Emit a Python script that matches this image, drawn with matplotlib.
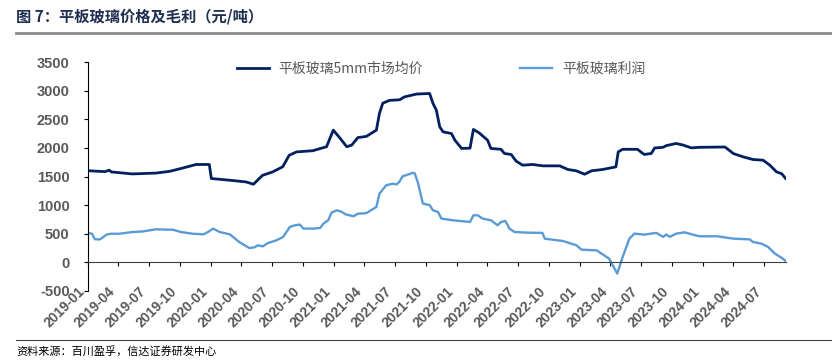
import numpy as np
import pandas as pd
import matplotlib
matplotlib.use('Agg')
import matplotlib.pyplot as plt
import matplotlib.dates as mdates

plt.rcParams['font.family'] = ['Liberation Sans', 'Noto Sans CJK SC', 'DejaVu Sans']
plt.rcParams['axes.unicode_minus'] = False

# 平板玻璃5mm市场均价 (元/吨)
price_dates = ['2019-01-04', '2019-02-21', '2019-03-06', '2019-03-12', '2019-05-13', '2019-07-23',
               '2019-09-01', '2019-10-05', '2019-11-19', '2019-12-28', '2020-01-03', '2020-03-06',
               '2020-04-15', '2020-05-07', '2020-06-03', '2020-07-03', '2020-08-02', '2020-08-21',
               '2020-09-12', '2020-10-30', '2020-12-10', '2020-12-30', '2021-01-19', '2021-02-08',
               '2021-02-23', '2021-03-13', '2021-04-07', '2021-05-07', '2021-05-16', '2021-05-26',
               '2021-06-15', '2021-07-15', '2021-07-29', '2021-09-03', '2021-10-12', '2021-10-22',
               '2021-11-01', '2021-11-11', '2021-11-21', '2021-12-16', '2021-12-26', '2022-01-15',
               '2022-02-09', '2022-02-19', '2022-03-08', '2022-04-02', '2022-04-12', '2022-05-12',
               '2022-05-22', '2022-06-11', '2022-06-26', '2022-07-15', '2022-08-14', '2022-09-13',
               '2022-11-02', '2022-11-27', '2022-12-21', '2023-01-15', '2023-02-05', '2023-03-09',
               '2023-04-18', '2023-04-25', '2023-05-08', '2023-06-21', '2023-07-11', '2023-08-01',
               '2023-08-11', '2023-09-05', '2023-09-15', '2023-10-14', '2023-11-03', '2023-11-28',
               '2023-12-22', '2024-03-07', '2024-04-01', '2024-04-30', '2024-05-29', '2024-06-28',
               '2024-07-18', '2024-08-07', '2024-08-22', '2024-09-03']
price = [1600, 1585, 1610, 1580, 1545, 1560,
         1590, 1640, 1710, 1710, 1465, 1430,
         1405, 1365, 1520, 1580, 1670, 1870,
         1930, 1950, 2020, 2310, 2170, 2020,
         2050, 2180, 2200, 2310, 2600, 2780,
         2830, 2840, 2890, 2940, 2950, 2777,
         2660, 2368, 2280, 2250, 2135, 1990,
         1995, 2322, 2262, 2135, 1990, 1975,
         1902, 1885, 1768, 1698, 1710, 1686,
         1686, 1622, 1600, 1540, 1600, 1622,
         1668, 1930, 1975, 1975, 1885, 1902,
         1998, 2010, 2040, 2077, 2050, 2000,
         2010, 2015, 1900, 1843, 1797, 1785,
         1698, 1580, 1550, 1465]

# 平板玻璃利润 (元/吨)
profit_dates = ['2019-01-04', '2019-01-14', '2019-01-22', '2019-02-06', '2019-02-26', '2019-03-11',
                '2019-04-05', '2019-05-14', '2019-06-13', '2019-07-22', '2019-09-11', '2019-10-05',
                '2019-11-09', '2019-12-11', '2019-12-24', '2020-01-08', '2020-01-18', '2020-01-28',
                '2020-02-27', '2020-03-26', '2020-04-25', '2020-05-10', '2020-05-20', '2020-06-04',
                '2020-06-19', '2020-07-14', '2020-08-03', '2020-08-23', '2020-09-07', '2020-09-22',
                '2020-10-02', '2020-11-01', '2020-11-21', '2020-12-01', '2020-12-15', '2020-12-25',
                '2021-01-10', '2021-01-25', '2021-02-04', '2021-02-28', '2021-03-13', '2021-04-07',
                '2021-05-07', '2021-05-16', '2021-06-05', '2021-06-25', '2021-07-05', '2021-07-14',
                '2021-07-24', '2021-08-03', '2021-08-23', '2021-08-29', '2021-09-08', '2021-09-22',
                '2021-10-12', '2021-10-22', '2021-11-06', '2021-11-16', '2021-12-20', '2022-02-09',
                '2022-02-19', '2022-03-04', '2022-03-18', '2022-04-12', '2022-05-02', '2022-05-12',
                '2022-05-25', '2022-06-06', '2022-06-21', '2022-07-25', '2022-09-12', '2022-09-19',
                '2022-11-12', '2022-12-22', '2023-01-06', '2023-02-20', '2023-03-29', '2023-04-14',
                '2023-04-22', '2023-05-08', '2023-05-28', '2023-06-12', '2023-07-11', '2023-08-16',
                '2023-09-05', '2023-09-15', '2023-09-25', '2023-10-14', '2023-11-08', '2023-12-02',
                '2023-12-22', '2024-02-12', '2024-04-01', '2024-05-19', '2024-05-29', '2024-06-23',
                '2024-07-13', '2024-08-02', '2024-08-26', '2024-09-03']
profit = [510, 500, 405, 400, 485, 500,
          500, 530, 540, 577, 570, 530,
          500, 490, 530, 590, 560, 530,
          490, 355, 250, 263, 297, 280,
          338, 385, 443, 618, 648, 660,
          590, 590, 600, 677, 735, 870,
          910, 880, 840, 805, 850, 860,
          968, 1200, 1347, 1375, 1360, 1405,
          1505, 1522, 1563, 1555, 1377, 1027,
          1000, 910, 880, 765, 735, 706,
          822, 822, 765, 735, 648, 706,
          723, 590, 531, 520, 515, 414,
          373, 298, 222, 210, 64, -110,
          -195, 93, 414, 502, 485, 515,
          446, 485, 446, 502, 525, 485,
          456, 456, 414, 402, 356, 327,
          269, 153, 64, 23]

tick_labels = pd.date_range('2019-01-01', '2024-07-01', freq='QS')

fig = plt.figure(figsize=(8.32, 3.6), dpi=100)
ax = fig.add_axes([87.7 / 832, 1 - 291 / 360, (786 - 87.7) / 832, (291 - 62) / 360])

ax.plot(pd.to_datetime(price_dates), price, color='#002060', lw=2.0, label='平板玻璃5mm市场均价')
ax.plot(pd.to_datetime(profit_dates), profit, color='#5B9BD5', lw=1.7, label='平板玻璃利润')

ax.set_ylim(-500, 3500)
ax.set_yticks(np.arange(-500, 3501, 500))
ax.set_xlim(pd.Timestamp('2019-01-01'), pd.Timestamp('2024-09-04'))
ax.set_xticks(tick_labels)
ax.xaxis.set_major_formatter(mdates.DateFormatter('%Y-%m'))

ax.spines['top'].set_visible(False)
ax.spines['right'].set_visible(False)
ax.spines['bottom'].set_position(('data', 0))
ax.spines['bottom'].set_color('#404040')
ax.spines['left'].set_color('black')

ax.tick_params(axis='y', direction='out', length=3, pad=10, labelsize=10.5, labelcolor='#595959')
ax.tick_params(axis='x', direction='out', length=3, pad=13, labelsize=10, labelcolor='#595959')
for lab in ax.get_yticklabels():
    lab.set_fontweight('bold')
for lab in ax.get_xticklabels():
    lab.set_fontweight('bold')
    lab.set_rotation(45)
    lab.set_ha('right')

leg = ax.legend(loc='upper left', bbox_to_anchor=(237 / 832, 1 - 62 / 360), bbox_transform=fig.transFigure,
                ncol=2, frameon=False, borderpad=0, borderaxespad=0, handlelength=2.3,
                handletextpad=0.7, columnspacing=7.0,
                prop={'family': ['Noto Sans CJK SC'], 'size': 10})
for t in leg.get_texts():
    t.set_color('#595959')

# title and source lines
fig.text(16 / 832, 1 - 16 / 360, '图 7：平板玻璃价格及毛利（元/吨）', family=['Noto Sans CJK SC'],
         fontsize=11, fontweight='bold', color='#1F2F4F', va='center', ha='left')
fig.add_artist(plt.Line2D([16 / 832, 1], [1 - 33 / 360, 1 - 33 / 360], color='#8C8C8C', lw=2))
fig.add_artist(plt.Line2D([16 / 832, 1], [1 - 340 / 360, 1 - 340 / 360], color='#404040', lw=0.8))
fig.text(16 / 832, 1 - 351 / 360, '资料来源：百川盈孚，信达证券研发中心', family=['Noto Sans CJK SC'],
         fontsize=8, style='italic', color='black', va='center', ha='left')

fig.savefig('out.png', dpi=100)
